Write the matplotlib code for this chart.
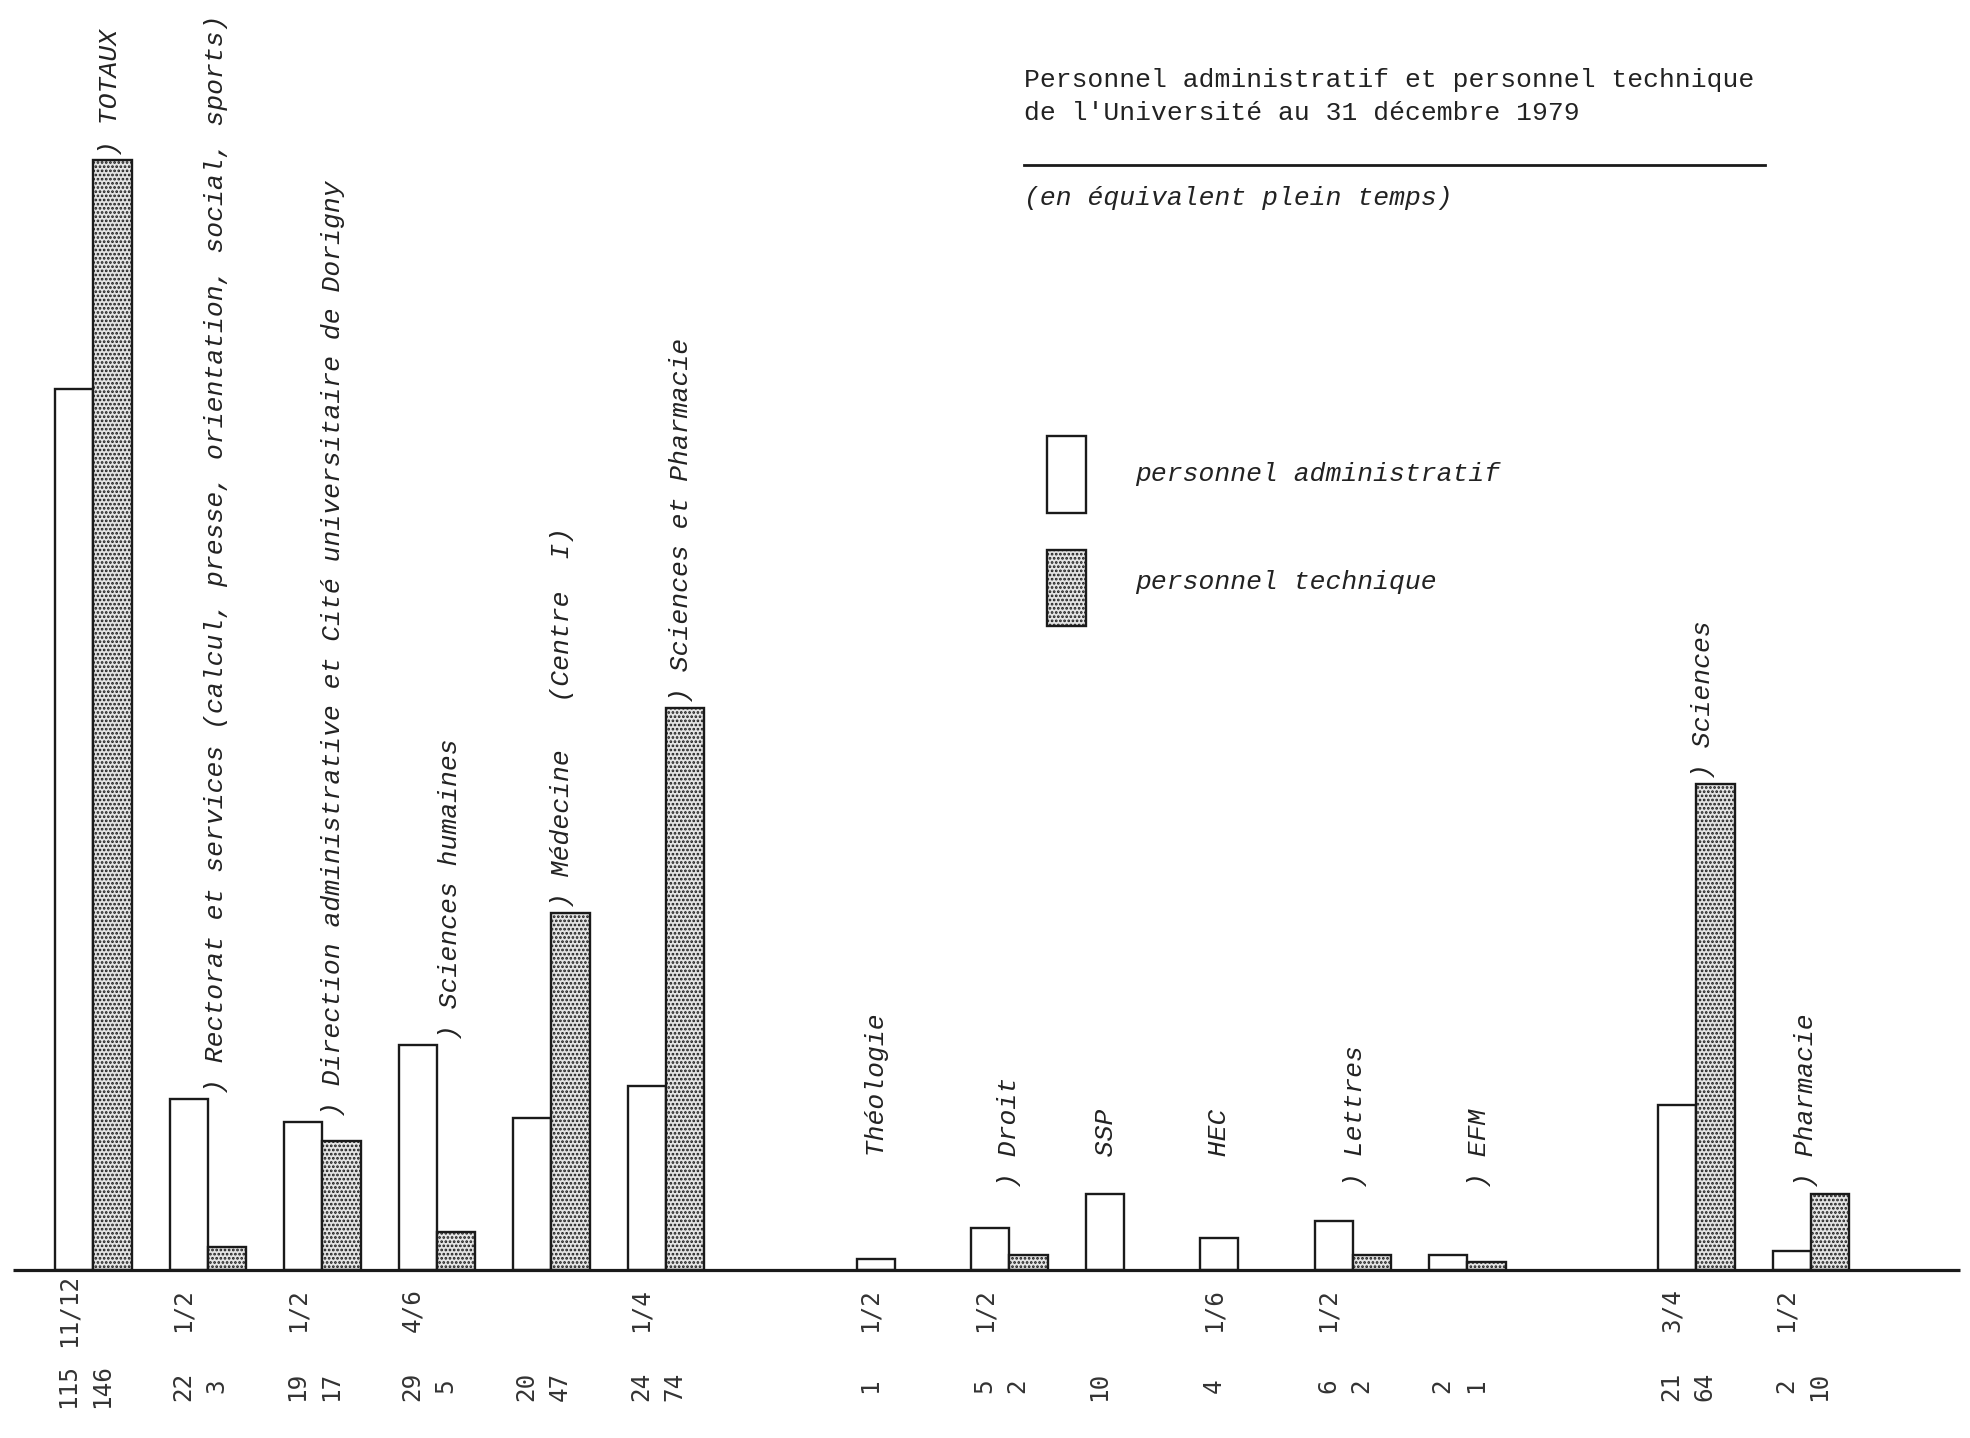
import matplotlib
matplotlib.use("Agg")
import matplotlib.pyplot as plt
from matplotlib.patches import Rectangle
from fractions import Fraction

# ---------------- data ----------------
categories = [
    "TOTAUX",
    "Rectorat et services (calcul, presse, orientation, social, sports)",
    "Direction administrative et Cité universitaire de Dorigny",
    "Sciences humaines",
    "Médecine   (Centre  I)",
    "Sciences et Pharmacie",
    "Théologie",
    "Droit",
    "SSP",
    "HEC",
    "Lettres",
    "EFM",
    "Sciences",
    "Pharmacie",
]
admin_whole = [115, 22, 19, 29, 20, 24, 1, 5, 10, 4, 6, 2, 21, 2]
admin_frac = ["11/12", "1/2", "1/2", "4/6", "", "1/4", "1/2", "1/2", "", "1/6", "1/2", "", "3/4", "1/2"]
tech_values = [146, 3, 17, 5, 47, 74, None, 2, None, None, 2, 1, 64, 10]
has_paren = [True, True, True, True, True, True, False, True, False, False, True, True, True, True]

admin_values = [w + (float(Fraction(f)) if f else 0.0) for w, f in zip(admin_whole, admin_frac)]

# ---------------- layout ----------------
slots = [0, 1, 2, 3, 4, 5, 7, 8, 9, 10, 11, 12, 14, 15]
label_dx = [0.48, 0.41, 0.43, 0.45, 0.43, 0.47, 0.18, 0.33, 0.18, 0.17, 0.35, 0.44, 0.39, 0.29]
BW = 0.335          # bar width in slot units

W, H = 1970, 1438
X0, XS = 55.0, 114.5     # pixel x of slot 0 left edge, pixels per slot
Y0, YS = 1270.0, 7.6     # baseline pixel y, pixels per unit value

def px_x(p):
    return (p - X0) / XS

def px_y(p):
    return (Y0 - p) / YS

fig = plt.figure(figsize=(W / 100, H / 100), dpi=100)
ax = fig.add_axes([0, 0, 1, 1])
ax.set_xlim(px_x(0), px_x(W))
ax.set_ylim(px_y(H), px_y(0))
ax.axis("off")

plt.rcParams["hatch.linewidth"] = 1.3
EDGE = "#1a1a1a"
TECH_FACE = "#e4e4e4"
TXT = "#222222"
NUM = "#333333"
mono = "Liberation Mono"
num_font = "DejaVu Sans Mono"

ax.bar(slots, admin_values, width=BW, align="edge",
       facecolor="white", edgecolor=EDGE, linewidth=1.7, zorder=3)
tx = [s + BW for s, t in zip(slots, tech_values) if t is not None]
tv = [t for t in tech_values if t is not None]
ax.bar(tx, tv, width=BW, align="edge", facecolor=TECH_FACE, edgecolor=EDGE,
       hatch="....", linewidth=1.7, zorder=3)

# baseline
ax.plot([px_x(13), px_x(1960)], [0, 0], color=EDGE, linewidth=2.3, zorder=4,
        solid_capstyle="butt")

# category labels (rotated)
FS = 19
for s, cat, a, t, dx, p in zip(slots, categories, admin_values, tech_values, label_dx, has_paren):
    top = max(a, t or 0)
    base = max(top + 0.6, 10.8)
    txt = (") " if p else "  ") + cat
    ax.text(s + dx, base, txt, rotation=90, rotation_mode="anchor",
            ha="left", va="center", fontsize=FS, family=mono, style="italic",
            color=TXT)

# value labels under the axis
NFS = 17.5
INT_MID = 1386
FRAC_MID = 1310
for s, w, f, t in zip(slots, admin_whole, admin_frac, tech_values):
    xa = s + BW / 2 - 0.05
    ax.text(xa, px_y(INT_MID), str(w), rotation=90, rotation_mode="anchor",
            ha="center", va="center", fontsize=NFS, family=num_font, color=NUM)
    if f:
        ax.text(xa, px_y(FRAC_MID), f, rotation=90, rotation_mode="anchor",
                ha="center", va="center", fontsize=NFS, family=num_font, color=NUM)
    if t is not None:
        xt = s + BW * 1.5 - 0.095
        ax.text(xt, px_y(INT_MID), str(t), rotation=90, rotation_mode="anchor",
                ha="center", va="center", fontsize=NFS, family=num_font, color=NUM)

# title block
ax.text(px_x(1024), px_y(80), "Personnel administratif et personnel technique",
        ha="left", va="center", fontsize=FS, family=mono, color=TXT)
ax.text(px_x(1024), px_y(113), "de l'Université au 31 décembre 1979",
        ha="left", va="center", fontsize=FS, family=mono, color=TXT)
ax.plot([px_x(1024), px_x(1765)], [px_y(165), px_y(165)], color=EDGE, linewidth=2.0)
ax.text(px_x(1024), px_y(198), "(en équivalent plein temps)",
        ha="left", va="center", fontsize=FS, family=mono, style="italic", color=TXT)

# legend
bx0, bx1 = px_x(1047), px_x(1086)
ax.add_patch(Rectangle((bx0, px_y(513)), bx1 - bx0, px_y(436) - px_y(513),
                       facecolor="white", edgecolor=EDGE, linewidth=1.7))
ax.add_patch(Rectangle((bx0, px_y(626)), bx1 - bx0, px_y(550) - px_y(626),
                       facecolor=TECH_FACE, edgecolor=EDGE, hatch="....", linewidth=1.7))
ax.text(px_x(1135), px_y(474), "personnel administratif", ha="left", va="center",
        fontsize=FS, family=mono, style="italic", color=TXT)
ax.text(px_x(1135), px_y(582), "personnel technique", ha="left", va="center",
        fontsize=FS, family=mono, style="italic", color=TXT)

fig.savefig("out.png", dpi=100, facecolor="white")
